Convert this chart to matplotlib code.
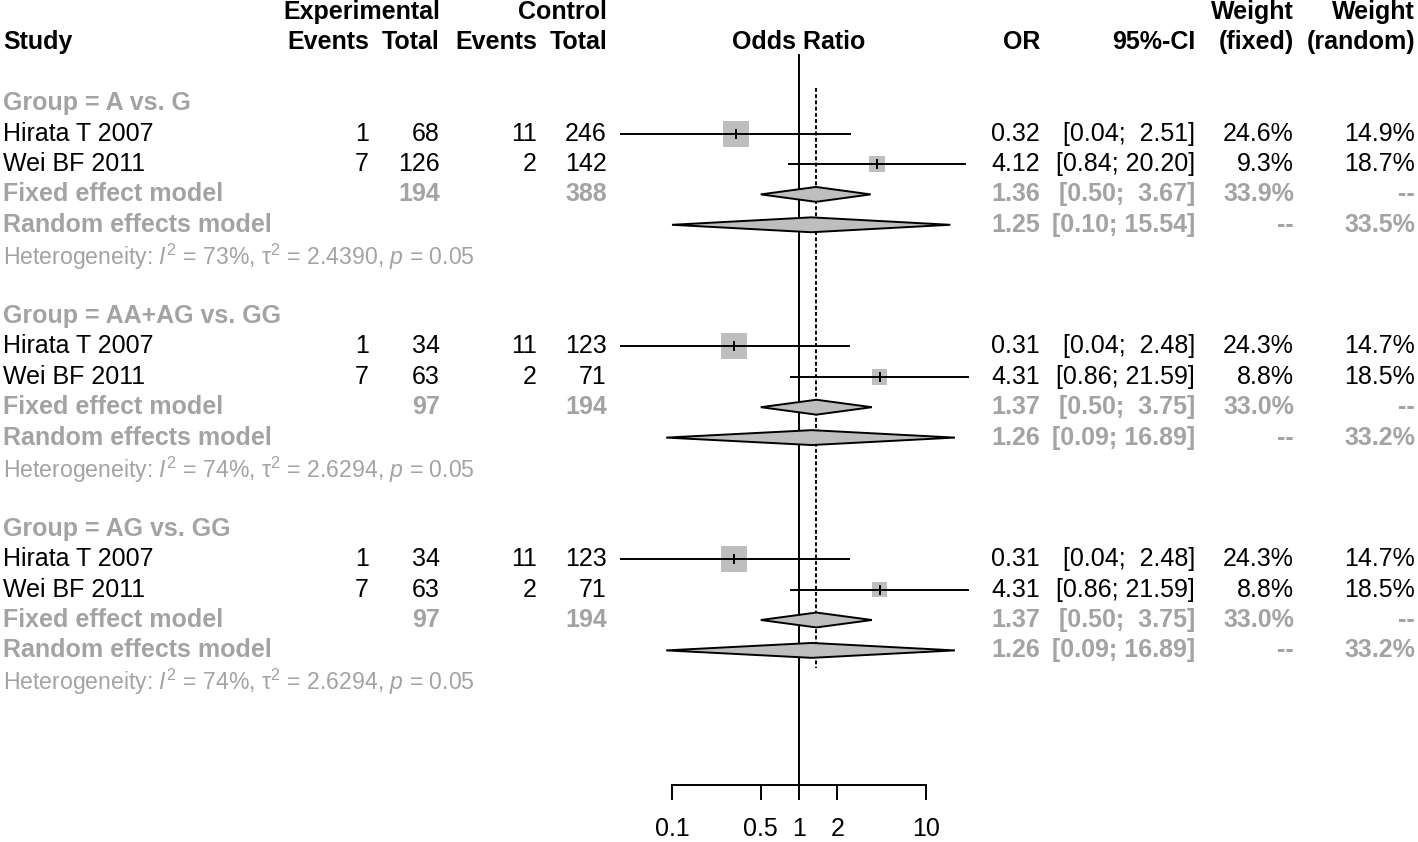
import matplotlib
matplotlib.use('Agg')
import matplotlib.pyplot as plt
import numpy as np

plt.rcParams['font.family'] = ['Liberation Sans', 'DejaVu Sans']
plt.rcParams['mathtext.fontset'] = 'custom'
plt.rcParams['mathtext.rm'] = 'Liberation Sans'
plt.rcParams['mathtext.it'] = 'Liberation Sans:italic'

# данные
groups = ['A vs. G', 'AA+AG vs. GG', 'AG vs. GG']
studies = ['Hirata T 2007', 'Wei BF 2011']
exp_events = [[1, 7], [1, 7], [1, 7]]
exp_total = [[68, 126], [34, 63], [34, 63]]
ctrl_events = [[11, 2], [11, 2], [11, 2]]
ctrl_total = [[246, 142], [123, 71], [123, 71]]
study_or = [[0.32, 4.12], [0.31, 4.31], [0.31, 4.31]]
study_lo = [[0.04, 0.84], [0.04, 0.86], [0.04, 0.86]]
study_hi = [[2.51, 20.20], [2.48, 21.59], [2.48, 21.59]]
w_fixed = [[24.6, 9.3], [24.3, 8.8], [24.3, 8.8]]
w_random = [[14.9, 18.7], [14.7, 18.5], [14.7, 18.5]]
fixed_or = [1.36, 1.37, 1.37]
fixed_lo = [0.50, 0.50, 0.50]
fixed_hi = [3.67, 3.75, 3.75]
fixed_w = [33.9, 33.0, 33.0]
random_or = [1.25, 1.26, 1.26]
random_lo = [0.10, 0.09, 0.09]
random_hi = [15.54, 16.89, 16.89]
random_w = [33.5, 33.2, 33.2]
sum_exp_total = [194, 97, 97]
sum_ctrl_total = [388, 194, 194]
i2 = [73, 74, 74]
tau2 = ['2.4390', '2.6294', '2.6294']
pval = ['0.05', '0.05', '0.05']
overall_fixed = 1.36
ticks = [0.1, 0.5, 1, 2, 10]

W, H = 1418, 842
ROW0, DY = 12, 30.4  # пиксели
FS = 18
GREY = '#a3a3a3'
BOXGREY = '#bebebe'
LW = 1.4

fig = plt.figure(figsize=(W / 100, H / 100), dpi=100)
ylim = ((H - ROW0) / DY, -ROW0 / DY)

# оси для текста (x в пикселях, y в строках)
tx = fig.add_axes([0, 0, 1, 1])
tx.set_xlim(0, W)
tx.set_ylim(*ylim)
tx.axis('off')

# оси для графика (логарифмическая шкала)
x1, dec = 799, 127
ax = fig.add_axes([0, 0, 1, 1])
ax.set_xscale('log')
ax.set_xlim(10 ** ((0 - x1) / dec), 10 ** ((W - x1) / dec))
ax.set_ylim(*ylim)
ax.patch.set_alpha(0)


def txt(x, row, s, ha='right', color='black', bold=False):
    tx.text(x, row, s, ha=ha, va='center', fontsize=FS, color=color,
            fontweight='bold' if bold else 'normal')


# заголовки
txt(3, 1, 'Study', ha='left', bold=True)
txt(440, 0, 'Experimental', bold=True)
txt(607, 0, 'Control', bold=True)
txt(369, 1, 'Events', bold=True)
txt(440, 1, 'Total', bold=True)
txt(537, 1, 'Events', bold=True)
txt(607, 1, 'Total', bold=True)
txt(799, 1, 'Odds Ratio', ha='center', bold=True)
txt(1040, 1, 'OR', bold=True)
txt(1195, 1, '95%-CI', bold=True)
txt(1294, 0, 'Weight', bold=True)
txt(1294, 1, '(fixed)', bold=True)
txt(1415, 0, 'Weight', bold=True)
txt(1415, 1, '(random)', bold=True)

box_k = 5.24 / 30.4  # сторона квадрата в строках на sqrt(веса)
half_h = 0.245

for g in range(len(groups)):
    r = 3 + 7 * g
    txt(3, r, 'Group = ' + groups[g], ha='left', color=GREY, bold=True)
    for s in range(len(studies)):
        rr = r + 1 + s
        txt(3, rr, studies[s], ha='left')
        txt(369, rr, str(exp_events[g][s]))
        txt(440, rr, str(exp_total[g][s]))
        txt(537, rr, str(ctrl_events[g][s]))
        txt(607, rr, str(ctrl_total[g][s]))
        txt(1040, rr, f'{study_or[g][s]:.2f}')
        txt(1195, rr, f'[{study_lo[g][s]:.2f}; {study_hi[g][s]:5.2f}]')
        txt(1294, rr, f'{w_fixed[g][s]:.1f}%')
        txt(1415, rr, f'{w_random[g][s]:.1f}%')
        # CI и квадрат
        ax.plot([study_lo[g][s], study_hi[g][s]], [rr, rr], color='black', lw=LW, zorder=2)
        half = box_k * np.sqrt(w_fixed[g][s]) / 2
        c = np.log10(study_or[g][s])
        # ширина квадрата в пикселях -> в лог-единицах
        hw = half * DY / dec
        ax.fill([10 ** (c - hw), 10 ** (c + hw), 10 ** (c + hw), 10 ** (c - hw)],
                [rr - half, rr - half, rr + half, rr + half], color=BOXGREY, lw=0, zorder=1)
        ax.plot([study_or[g][s]] * 2, [rr - 0.13, rr + 0.13], color='black', lw=LW, zorder=3)

    rf, rrnd = r + 3, r + 4
    txt(3, rf, 'Fixed effect model', ha='left', color=GREY, bold=True)
    txt(440, rf, str(sum_exp_total[g]), color=GREY, bold=True)
    txt(607, rf, str(sum_ctrl_total[g]), color=GREY, bold=True)
    txt(1040, rf, f'{fixed_or[g]:.2f}', color=GREY, bold=True)
    txt(1195, rf, f'[{fixed_lo[g]:.2f}; {fixed_hi[g]:5.2f}]', color=GREY, bold=True)
    txt(1294, rf, f'{fixed_w[g]:.1f}%', color=GREY, bold=True)
    txt(1415, rf, '--', color=GREY, bold=True)

    txt(3, rrnd, 'Random effects model', ha='left', color=GREY, bold=True)
    txt(1040, rrnd, f'{random_or[g]:.2f}', color=GREY, bold=True)
    txt(1195, rrnd, f'[{random_lo[g]:.2f}; {random_hi[g]:5.2f}]', color=GREY, bold=True)
    txt(1294, rrnd, '--', color=GREY, bold=True)
    txt(1415, rrnd, f'{random_w[g]:.1f}%', color=GREY, bold=True)

    for row, m, lo, hi in [(rf, fixed_or[g], fixed_lo[g], fixed_hi[g]),
                           (rrnd, random_or[g], random_lo[g], random_hi[g])]:
        ax.fill([lo, m, hi, m], [row, row - half_h, row, row + half_h],
                facecolor=BOXGREY, edgecolor='black', lw=LW, zorder=4)

    tx.text(3, r + 5.05, 'Heterogeneity: $I^2$ = %d%%, \u03c4$^2$ = %s, $p$ = %s'
            % (i2[g], tau2[g], pval[g]), ha='left', va='center', fontsize=16.6, color=GREY)

# вертикальные линии
axis_row = (785 - ROW0) / DY
ax.plot([1, 1], [(55 - ROW0) / DY, axis_row], color='black', lw=LW, zorder=3)
ax.plot([overall_fixed] * 2, [(88 - ROW0) / DY, (668 - ROW0) / DY], color='black',
        lw=LW, ls=(0, (2, 1.2)), zorder=3)

# ось X
for sp in ['top', 'left', 'right']:
    ax.spines[sp].set_visible(False)
ax.spines['bottom'].set_position(('data', axis_row))
ax.spines['bottom'].set_bounds(0.1, 10)
ax.spines['bottom'].set_linewidth(LW)
ax.set_xticks(ticks)
ax.set_xticklabels(['0.1', '0.5', '1', '2', '10'])
ax.xaxis.set_minor_locator(matplotlib.ticker.NullLocator())
ax.tick_params(axis='x', length=11, width=LW, pad=12, labelsize=FS)
ax.set_yticks([])

fig.savefig('out.png', dpi=100)
